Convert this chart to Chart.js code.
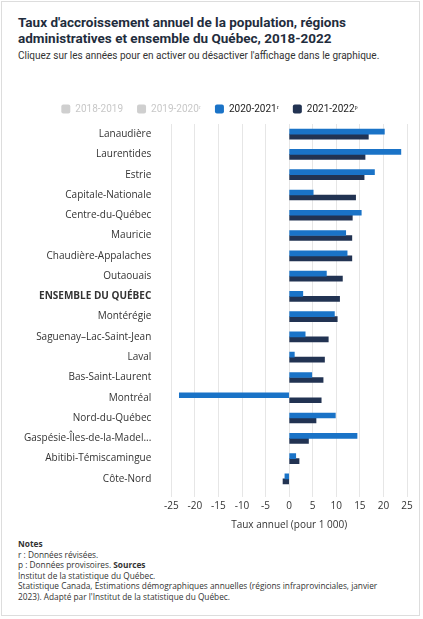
<!DOCTYPE html>
<html><head><meta charset="utf-8">
<script src="https://cdn.jsdelivr.net/npm/chart.js@4"></script>
<style>
body{margin:0;background:#fff;font-family:Roboto,sans-serif;}
#wrap{position:absolute;left:1px;top:1px;width:419px;height:615px;border:1px solid #ddd;box-sizing:border-box;}
h1{position:absolute;left:16px;top:12px;margin:0;font-size:13.5px;line-height:16px;font-weight:700;color:#1f2d3d;width:390px;}
.sub{position:absolute;left:16px;top:48px;font-size:10px;color:#333;}
#cv{position:absolute;left:0;top:88px;width:419px;height:445px;}
.notes{position:absolute;left:16px;top:537px;font-family:"Open Sans",sans-serif;font-size:8.3px;line-height:10.5px;color:#333;}
</style></head><body>
<div id="wrap">
<h1>Taux d'accroissement annuel de la population, régions administratives et ensemble du Québec, 2018-2022</h1>
<div class="sub">Cliquez sur les années pour en activer ou désactiver l'affichage dans le graphique.</div>
<div id="cv"><canvas id="c"></canvas></div>
<div class="notes"><b>Notes</b><br>r : Données révisées.<br>p : Données provisoires. <b>Sources</b><br>Institut de la statistique du Québec.<br>Statistique Canada, Estimations démographiques annuelles (régions infraprovinciales, janvier<br>2023). Adapté par l'Institut de la statistique du Québec.</div>
</div>
<script>
const categories=["Lanaudière","Laurentides","Estrie","Capitale-Nationale","Centre-du-Québec","Mauricie","Chaudière-Appalaches","Outaouais","ENSEMBLE DU QUÉBEC","Montérégie","Saguenay–Lac-Saint-Jean","Laval","Bas-Saint-Laurent","Montréal","Nord-du-Québec","Gaspésie-Îles-de-la-Madel...","Abitibi-Témiscamingue","Côte-Nord"];
const s2021=[20.2,23.7,18.1,5.1,15.3,12.0,12.3,7.9,2.9,9.6,3.4,1.1,4.8,-23.3,9.8,14.4,1.4,-0.9];
const s2022=[16.8,16.1,15.9,14.1,13.4,13.3,13.3,11.3,10.7,10.2,8.3,7.5,7.2,6.8,5.7,4.1,2.1,-1.3];
const legendLabels=["2018-2019","2019-2020ʳ","2020-2021ʳ","2021-2022ᵖ"];
const xTicks=[-25,-20,-15,-10,-5,0,5,10,15,20,25];
new Chart(document.getElementById('c'),{type:'bar',
data:{labels:categories,datasets:[
{label:legendLabels[2],data:s2021,backgroundColor:'#1a73c7',barThickness:5},
{label:legendLabels[3],data:s2022,backgroundColor:'#223352',barThickness:5}]},
options:{indexAxis:'y',responsive:true,maintainAspectRatio:false,animation:false,
layout:{padding:{left:10,right:14,top:0,bottom:0}},
plugins:{legend:{position:'top',labels:{boxWidth:9,boxHeight:9,padding:14,font:{family:'Roboto',size:10},
generateLabels:()=>legendLabels.map((l,i)=>({text:l,fillStyle:i<2?'#cfcfcf':(i==2?'#1a73c7':'#223352'),strokeStyle:'transparent',fontColor:i<2?'#c8c8c8':'#222',hidden:false,datasetIndex:i-2,borderRadius:2}))},
onClick:()=>{}},tooltip:{enabled:false}},
scales:{x:{min:-25,max:25,afterBuildTicks:a=>{a.ticks=xTicks.map(v=>({value:v}));},
ticks:{font:{family:'Open Sans',size:10},color:'#333'},grid:{color:'#e6e6e6'},border:{display:false},
title:{display:true,text:'Taux annuel (pour 1 000)',font:{family:'Open Sans',size:10},color:'#333'}},
y:{grid:{display:false},border:{display:false},ticks:{color:'#333',padding:12,font:c=>({family:'Open Sans',size:10,weight:c.index===8?'bold':'normal'})}}}}});
</script></body></html>
